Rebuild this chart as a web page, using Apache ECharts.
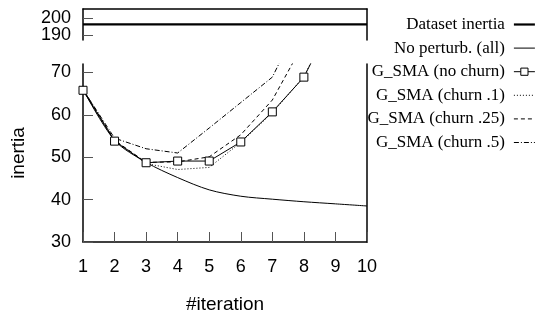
<!DOCTYPE html>
<html>
<head>
<meta charset="utf-8">
<script src="https://cdn.jsdelivr.net/npm/echarts@6/dist/echarts.min.js"></script>
<style>
  html, body { margin: 0; padding: 0; background: #fff; }
  #chart { width: 544px; height: 316px; }
</style>
</head>
<body>
<div id="chart"></div>
<script>
// values
var iterations = [1, 2, 3, 4, 5, 6, 7, 8, 9, 10];
var datasetInertia = [196.4, 196.4, 196.4, 196.4, 196.4, 196.4, 196.4, 196.4, 196.4, 196.4];
var noPerturb = [66, 54, 48.8, 45.2, 42.3, 40.8, 40.1, 39.5, 39.0, 38.5];
var smaNoChurn = [65.8, 53.8, 48.7, 49.1, 49.1, 53.6, 60.7, 68.9, 83.7];
var smaChurn10 = [66, 54, 48.5, 47.1, 47.6, 53.5, 60.5, 69, 84];
var smaChurn25 = [66, 54, 48.8, 48.9, 50.1, 55.3, 63.5, 77];
var smaChurn50 = [66, 54.5, 52, 51, 56.9, 62.9, 68.9, 84];

// upper (broken) axis ticks are drawn by two overlaid axes so they don't hide each other
var topTicksLow = [190];
var topTicksHigh = [200];
var bottomTicks = [30, 40, 50, 60, 70];

var names = ['Dataset inertia', 'No perturb. (all)', 'G_SMA (no churn)',
             'G_SMA (churn .1)', 'G_SMA (churn .25)', 'G_SMA (churn .5)'];

function pairs(vals){
	var out = [];
	for(var i=0; i<vals.length; i++){
		out.push([iterations[i], vals[i]]);
	}
	return out;
}

var sans = 'Liberation Sans';
var nameStyle = {fontFamily: sans, fontSize: 19, color: '#000'};
var axisLineStyle = {color: '#000', width: 1.5};
var tickStyle = {color: '#555', width: 1};

function lineSeries(name, vals, dash, extra){
	var s = {
		name: name,
		type: 'line',
		xAxisIndex: 1,
		yAxisIndex: 2,
		data: pairs(vals),
		symbol: 'none',
		lineStyle: {color: '#000', width: 1, type: dash},
		itemStyle: {color: '#000'},
		emphasis: {disabled: true}
	};
	if(extra){
		for(var k in extra){ s[k] = extra[k]; }
	}
	return s;
}

function topLeftAxis(vals, showLine){
	return {gridIndex: 0, type: 'value', min: 187, max: 205.6, position: 'left', offset: 0,
		axisLine: {show: showLine, lineStyle: axisLineStyle},
		axisTick: {show: true, inside: true, length: 10, lineStyle: tickStyle, customValues: vals},
		axisLabel: {margin: 12, fontFamily: sans, fontSize: 18, color: '#000',
		            customValues: vals, showMinLabel: true, showMaxLabel: true},
		splitLine: {show: false}};
}

var chart = echarts.init(document.getElementById('chart'));
var option = {
	animation: false,
	backgroundColor: '#fff',
	grid: [
		{left: 83, top: 9, width: 284, height: 31, outerBoundsMode: 'none'},
		{left: 83, top: 64, width: 284, height: 178, outerBoundsMode: 'none'}
	],
	xAxis: [
		{gridIndex: 0, type: 'value', min: 1, max: 10, position: 'top',
		 axisLine: {show: true, lineStyle: axisLineStyle}, axisTick: {show: false},
		 axisLabel: {show: false}, splitLine: {show: false}},
		{gridIndex: 1, type: 'value', min: 1, max: 10, interval: 1,
		 axisLine: {show: true, onZero: false, lineStyle: axisLineStyle},
		 axisTick: {show: true, inside: true, length: 10, lineStyle: tickStyle},
		 axisLabel: {margin: 16, fontFamily: sans, fontSize: 18, color: '#000'},
		 splitLine: {show: false},
		 name: '#iteration', nameLocation: 'middle', nameGap: 53,
		 nameTextStyle: nameStyle}
	],
	yAxis: [
		topLeftAxis(topTicksLow, true),
		{gridIndex: 0, type: 'value', min: 187, max: 205.6, position: 'right',
		 axisLine: {show: true, lineStyle: axisLineStyle}, axisTick: {show: false},
		 axisLabel: {show: false}, splitLine: {show: false}},
		{gridIndex: 1, type: 'value', min: 30, max: 72, position: 'left',
		 axisLine: {show: true, onZero: false, lineStyle: axisLineStyle},
		 axisTick: {show: true, inside: true, length: 10, lineStyle: tickStyle, customValues: bottomTicks},
		 axisLabel: {margin: 12, fontFamily: sans, fontSize: 18, color: '#000', customValues: bottomTicks},
		 splitLine: {show: false},
		 name: 'inertia', nameLocation: 'middle', nameGap: 55, nameRotate: 90,
		 nameTextStyle: nameStyle},
		{gridIndex: 1, type: 'value', min: 30, max: 72, position: 'right',
		 axisLine: {show: true, onZero: false, lineStyle: axisLineStyle}, axisTick: {show: false},
		 axisLabel: {show: false}, splitLine: {show: false}},
		topLeftAxis(topTicksHigh, false)
	],
	legend: {
		orient: 'vertical',
		right: 3,
		top: 10.5,
		align: 'right',
		itemWidth: 21,
		itemHeight: 9,
		itemGap: 5.6,
		selectedMode: false,
		textStyle: {fontFamily: 'Liberation Serif', fontSize: 17, color: '#000',
		            lineHeight: 18, padding: [0, 4, 0, 0]},
		data: [
			{name: names[0], itemStyle: {opacity: 0}, lineStyle: {width: 2.2}},
			{name: names[1], itemStyle: {opacity: 0}, lineStyle: {width: 1}},
			{name: names[2], itemStyle: {color: '#fff', borderColor: '#000', borderWidth: 1}, lineStyle: {width: 1}},
			{name: names[3], itemStyle: {opacity: 0}, lineStyle: {width: 1}},
			{name: names[4], itemStyle: {opacity: 0}, lineStyle: {width: 1}},
			{name: names[5], itemStyle: {opacity: 0}, lineStyle: {width: 1}}
		]
	},
	series: [
		lineSeries(names[0], datasetInertia, 'solid', {xAxisIndex: 0, yAxisIndex: 0,
			lineStyle: {color: '#000', width: 2.2, type: 'solid'}}),
		lineSeries(names[1], noPerturb, 'solid', {smooth: 0.3}),
		lineSeries(names[2], smaNoChurn, 'solid', {symbol: 'rect', symbolSize: 8,
			itemStyle: {color: '#fff', borderColor: '#000', borderWidth: 1}}),
		lineSeries(names[3], smaChurn10, [1, 2]),
		lineSeries(names[4], smaChurn25, [4, 3]),
		lineSeries(names[5], smaChurn50, [5, 2, 1, 2])
	]
};
chart.setOption(option);
</script>
</body>
</html>
